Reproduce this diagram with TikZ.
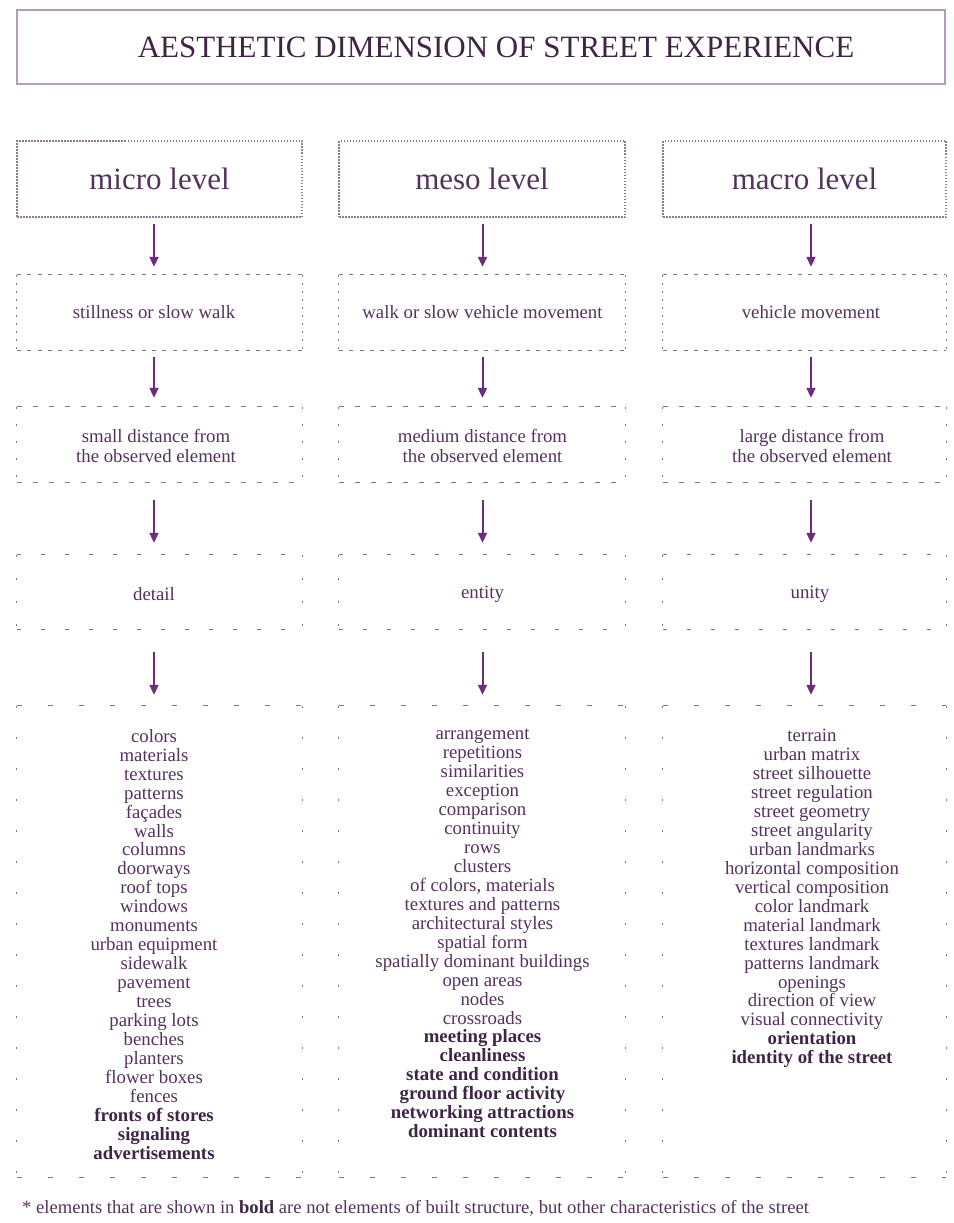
\documentclass[tikz,border=0pt]{standalone}
\usepackage{fontspec}
\setmainfont{Liberation Serif}
\usetikzlibrary{arrows.meta}

\definecolor{ink}{HTML}{55325D}
\definecolor{inkdark}{HTML}{3E2545}
\definecolor{arrowc}{HTML}{6E2C7C}
\definecolor{framec}{HTML}{B49CBB}
\definecolor{dotc}{HTML}{8E7A96}
\definecolor{dashc}{HTML}{807688}

% draw the four edges of a box node with separate styles for
% horizontal and vertical edges
\newcommand\boxedges[3]{%
  \draw[#2] (#1.north west) -- (#1.north east);
  \draw[#2] (#1.south west) -- (#1.south east);
  \draw[#3] (#1.north west) -- (#1.south west);
  \draw[#3] (#1.north east) -- (#1.south east);}

\tikzset{
  frame/.style={draw=none, rectangle, inner sep=0pt},
  titlebox/.style={draw=framec, line width=2pt, rectangle, inner sep=0pt,
    minimum width=928pt, minimum height=74pt},
  levelbox/.style={draw=dotc, line width=1.6pt, dash pattern=on 1.5pt off 1.5pt,
    rectangle, inner sep=0pt, minimum height=76pt, text=ink,
    font=\fontsize{31}{36}\selectfont},
  smalltxt/.style={inner sep=0pt, text=ink, align=center,
    font=\fontsize{18.8}{20}\selectfont},
  listtxt/.style={inner sep=0pt, text=ink, align=center,
    font=\fontsize{18.8}{18.95}\selectfont},
  hA/.style={draw=dashc, line width=1.2pt, dash pattern=on 4pt off 6.4pt},
  vA/.style={draw=dashc, line width=1.2pt, dash pattern=on 2pt off 6pt},
  hB/.style={draw=dashc, line width=1.2pt, dash pattern=on 5pt off 11pt},
  vB/.style={draw=dashc, line width=1.2pt, dash pattern=on 2pt off 15pt},
  hC/.style={draw=dashc, line width=1.2pt, dash pattern=on 4pt off 20pt},
  vC/.style={draw=dashc, line width=1.2pt, dash pattern=on 2pt off 21pt},
  hD/.style={draw=dashc, line width=1.2pt, dash pattern=on 5pt off 26pt},
  vD/.style={draw=dashc, line width=1.2pt, dash pattern=on 2pt off 29pt},
  arr/.style={draw=arrowc, line width=2pt,
    -{Triangle[width=9pt,length=10pt]}},
}

\newcommand\bt[1]{\textbf{\color{inkdark}#1}}

\begin{document}
\begin{tikzpicture}[x=1pt, y=-1pt]
\useasboundingbox (0,0) rectangle (953,1223);

% heading
\node[titlebox] (title) at (481,47) {};
\node[inner sep=0pt, text=inkdark, font=\fontsize{31}{36}\selectfont] (titletxt) at (496,47)
  {AESTHETIC DIMENSION OF STREET EXPERIENCE};

% level boxes
\node[levelbox, minimum width=285pt] (L1) at (159.5,179) {micro level};
\node[levelbox, minimum width=286pt] (L2) at (482,179) {meso level};
\node[levelbox, minimum width=283pt] (L3) at (804.5,179) {macro level};

% movement row
\node[frame, minimum width=285pt, minimum height=75pt] (M1) at (159.5,312.5) {};
\node[frame, minimum width=286pt, minimum height=75pt] (M2) at (482,312.5) {};
\node[frame, minimum width=283pt, minimum height=75pt] (M3) at (804.5,312.5) {};
\node[smalltxt] (tM1) at (154,312) {stillness or slow walk};
\node[smalltxt] (tM2) at (482.5,312) {walk or slow vehicle movement};
\node[smalltxt] (tM3) at (811,312) {vehicle movement};
\foreach \n in {M1,M2,M3} {\boxedges{\n}{hA}{vA}}

% distance row
\node[frame, minimum width=285pt, minimum height=75pt] (D1) at (159.5,444.5) {};
\node[frame, minimum width=286pt, minimum height=75pt] (D2) at (482,444.5) {};
\node[frame, minimum width=283pt, minimum height=75pt] (D3) at (804.5,444.5) {};
\node[smalltxt] (tD1) at (156,446) {small distance from\\the observed element};
\node[smalltxt] (tD2) at (482.5,446) {medium distance from\\the observed element};
\node[smalltxt] (tD3) at (812,446) {large distance from\\the observed element};
\foreach \n in {D1,D2,D3} {\boxedges{\n}{hB}{vB}}

% scale row
\node[frame, minimum width=285pt, minimum height=74pt] (S1) at (159.5,592) {};
\node[frame, minimum width=286pt, minimum height=74pt] (S2) at (482,592) {};
\node[frame, minimum width=283pt, minimum height=74pt] (S3) at (804.5,592) {};
\node[smalltxt] (tS1) at (154,594) {detail};
\node[smalltxt] (tS2) at (482.5,594) {entity};
\node[smalltxt] (tS3) at (810,594) {unity};
\foreach \n in {S1,S2,S3} {\boxedges{\n}{hC}{vC}}

% element lists
\node[frame, minimum width=285pt, minimum height=471pt] (E1) at (159.5,941.5) {};
\node[frame, minimum width=286pt, minimum height=471pt] (E2) at (482,941.5) {};
\node[frame, minimum width=283pt, minimum height=471pt] (E3) at (804.5,941.5) {};
\foreach \n in {E1,E2,E3} {\boxedges{\n}{hD}{vD}}

\node[listtxt, anchor=north] (tE1) at (154,729) {colors\\materials\\textures\\patterns\\façades\\walls\\columns\\doorways\\roof tops\\windows\\monuments\\urban equipment\\sidewalk\\pavement\\trees\\parking lots\\benches\\planters\\flower boxes\\fences\\\bt{fronts of stores}\\\bt{signaling}\\\bt{advertisements}};
\node[listtxt, anchor=north] (tE2) at (482.5,729) {arrangement\\repetitions\\similarities\\exception\\comparison\\continuity\\rows\\clusters\\of colors, materials\\textures and patterns\\architectural styles\\spatial form\\spatially dominant buildings\\open areas\\nodes\\crossroads\\\bt{meeting places}\\\bt{cleanliness}\\\bt{state and condition}\\\bt{ground floor activity}\\\bt{networking attractions}\\\bt{dominant contents}};
\node[listtxt, anchor=north] (tE3) at (812,729) {terrain\\urban matrix\\street silhouette\\street regulation\\street geometry\\street angularity\\urban landmarks\\horizontal composition\\vertical composition\\color landmark\\material landmark\\textures landmark\\patterns landmark\\openings\\direction of view\\visual connectivity\\\bt{orientation}\\\bt{identity of the street}};

% arrows down each column
\foreach \c in {1,2,3} {
  \draw[arr, shorten <=6pt, shorten >=8pt] (L\c.south -| tM\c) -- (M\c.north -| tM\c);
  \draw[arr, shorten <=7pt, shorten >=9pt] (M\c.south -| tM\c) -- (D\c.north -| tM\c);
  \draw[arr, shorten <=18pt, shorten >=12pt] (D\c.south -| tM\c) -- (S\c.north -| tM\c);
  \draw[arr, shorten <=23pt, shorten >=11pt] (S\c.south -| tM\c) -- (E\c.north -| tM\c);
}

% note
\node[anchor=base west, inner sep=0pt, text=ink, font=\fontsize{18.6}{20}\selectfont] (note) at (22,1213)
  {* elements that are shown in \bt{bold} are not elements of built structure, but other characteristics of the street};
\end{tikzpicture}
\end{document}
